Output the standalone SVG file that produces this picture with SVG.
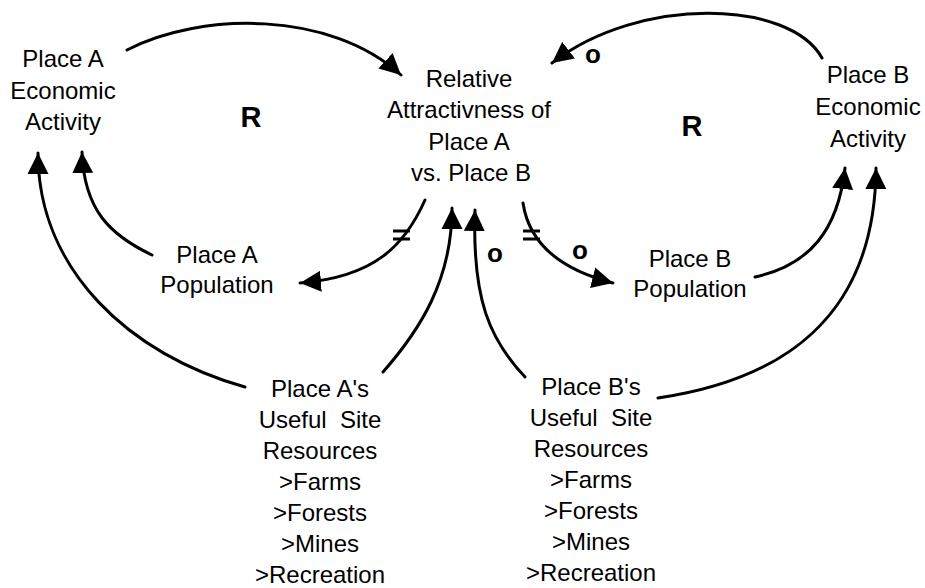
<svg xmlns="http://www.w3.org/2000/svg" width="925" height="588" viewBox="0 0 925 588">
<style>
.t{font-family:"Liberation Sans",Arial,sans-serif;font-size:24px;fill:#000;text-anchor:middle}
.b{font-family:"Liberation Sans",Arial,sans-serif;font-weight:bold;fill:#000;text-anchor:middle}
.c{fill:none;stroke:#000;stroke-width:3;stroke-linecap:round}
.d{fill:none;stroke:#000;stroke-width:3.2}
</style>
<defs>
<marker id="ah" markerUnits="userSpaceOnUse" markerWidth="22" markerHeight="22" refX="21" refY="10.5" orient="auto" viewBox="0 0 22 21">
<path d="M0,0 L21,10.5 L0,21 z" fill="#000"/>
</marker>
</defs>
<rect width="925" height="588" fill="#fff"/>
<g id="connectors">
<path class="c" marker-end="url(#ah)" d="M127,50 C200,12 330,10 401,75"/>
<path class="c" marker-end="url(#ah)" d="M822,58 C790,0 640,-5 552,63"/>
<path class="c" marker-end="url(#ah)" d="M152,255 C110,235 84,210 82,152"/>
<path class="c" marker-end="url(#ah)" d="M245,387 C130,355 38,270 38,153"/>
<path class="c" marker-end="url(#ah)" d="M755,277 C810,265 838,230 845,168"/>
<path class="c" marker-end="url(#ah)" d="M658,398 C780,380 875,320 876,168"/>
<path class="c" marker-end="url(#ah)" d="M425,200 C405,245 375,277 300,283"/>
<path class="c" marker-end="url(#ah)" d="M523,203 C530,250 570,272 613,283"/>
<path class="c" marker-end="url(#ah)" d="M383,372 C420,330 452,280 452,208"/>
<path class="c" marker-end="url(#ah)" d="M525,377 C490,340 472,300 475,210"/>
<path class="d" d="M393,231 H410 M393,239 H410"/>
<path class="d" d="M523,231 H540 M523,239 H540"/>
</g>
<g id="placeA-econ">
<text class="t" x="63" y="67">Place A</text>
<text class="t" x="63" y="99">Economic</text>
<text class="t" x="63" y="130">Activity</text>
</g>
<g id="relative">
<text class="t" x="469" y="87">Relative</text>
<text class="t" x="469" y="118">Attractivness of</text>
<text class="t" x="469" y="150">Place A</text>
<text class="t" x="471" y="181">vs. Place B</text>
</g>
<g id="placeB-econ">
<text class="t" x="868" y="83">Place B</text>
<text class="t" x="868" y="115">Economic</text>
<text class="t" x="868" y="147">Activity</text>
</g>
<g id="placeA-pop">
<text class="t" x="217" y="263">Place A</text>
<text class="t" x="217" y="293">Population</text>
</g>
<g id="placeB-pop">
<text class="t" x="690" y="267">Place B</text>
<text class="t" x="690" y="297">Population</text>
</g>
<g id="placeA-res">
<text class="t" x="320" y="397">Place A's</text>
<text class="t" x="320" y="428" xml:space="preserve">Useful  Site</text>
<text class="t" x="320" y="459">Resources</text>
<text class="t" x="320" y="490">&gt;Farms</text>
<text class="t" x="320" y="521">&gt;Forests</text>
<text class="t" x="320" y="552">&gt;Mines</text>
<text class="t" x="320" y="583">&gt;Recreation</text>
</g>
<g id="placeB-res">
<text class="t" x="591" y="395">Place B's</text>
<text class="t" x="591" y="426" xml:space="preserve">Useful  Site</text>
<text class="t" x="591" y="457">Resources</text>
<text class="t" x="591" y="488">&gt;Farms</text>
<text class="t" x="591" y="519">&gt;Forests</text>
<text class="t" x="591" y="550">&gt;Mines</text>
<text class="t" x="591" y="581">&gt;Recreation</text>
</g>
<g id="labels">
<text class="b" x="251" y="127" font-size="29">R</text>
<text class="b" x="692" y="136" font-size="29">R</text>
<text class="b" x="593" y="63" font-size="26">o</text>
<text class="b" x="495" y="262" font-size="26">o</text>
<text class="b" x="580" y="259" font-size="26">o</text>
</g>
</svg>
